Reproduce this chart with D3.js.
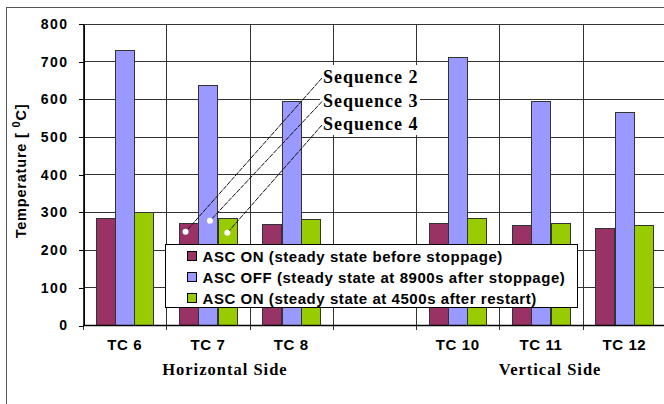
<!DOCTYPE html>
<meta charset="utf-8">
<style>
body { margin: 0; background: #fff; }
svg { display: block; }
.axis text { font: bold 14px "Liberation Sans", Arial, sans-serif; fill: #000; letter-spacing: 1.5px; }
.axis path, .axis line { stroke: #000; shape-rendering: crispEdges; }
.grid line { stroke: #333; shape-rendering: crispEdges; }
.bar { stroke: #333; stroke-width: 1; shape-rendering: crispEdges; }
.cat text { font: bold 15px "Liberation Sans", Arial, sans-serif; letter-spacing: 0.6px; }
.side { font: bold 16.5px "Liberation Serif", "Times New Roman", serif; letter-spacing: 1px; }
.legend text { font: bold 15px "Liberation Sans", Arial, sans-serif; letter-spacing: 0.55px; }
.seq text { font: bold 18px "Liberation Serif", "Times New Roman", serif; letter-spacing: 1px; }
</style>
<body>
<svg id="chart" width="664" height="404"></svg>
<script src="https://cdn.jsdelivr.net/npm/d3@7"></script>
<script>

// data
var categories = ["TC 6", "TC 7", "TC 8", "", "TC 10", "TC 11", "TC 12"];
var seriesNames = [
  "ASC ON (steady state before stoppage)",
  "ASC OFF (steady state at 8900s after stoppage)",
  "ASC ON (steady state at 4500s after restart)"
];
var ascOnBefore = [283, 271, 268, null, 271, 265, 257];
var ascOff      = [731, 638, 595, null, 710, 595, 565];
var ascOnAfter  = [299, 285, 280, null, 284, 270, 265];
var colors = ["#993366", "#9999ff", "#99cc00"];
var yTicks = [0, 100, 200, 300, 400, 500, 600, 700, 800];
var groups = [
  { label: "Horizontal Side", from: "TC 6", to: "TC 8" },
  { label: "Vertical Side", from: "TC 10", to: "TC 12" }
];
var sequences = ["Sequence 2", "Sequence 3", "Sequence 4"];

var svg = d3.select("#chart");

var margin = { left: 83, top: 23.5, right: 666, bottom: 325 };

var x = d3.scaleBand()
    .domain(d3.range(categories.length))
    .range([margin.left, margin.right]);

var x1 = d3.scaleBand()
    .domain(d3.range(3))
    .range([0, x.bandwidth()])
    .paddingInner(0)
    .paddingOuter(0.65);

var y = d3.scaleLinear()
    .domain([0, 800])
    .range([margin.bottom, margin.top]);

// outer frame
svg.append("rect")
    .attr("x", 6.5).attr("y", 7.5)
    .attr("width", 700).attr("height", 420)
    .attr("fill", "#fff")
    .attr("stroke", "#555");

// grid
var grid = svg.append("g").attr("class", "grid");
grid.selectAll(".h")
    .data(yTicks)
    .enter().append("line")
    .attr("class", "h")
    .attr("x1", margin.left).attr("x2", margin.right)
    .attr("y1", function(d) { return Math.round(y(d)) + 0.5; })
    .attr("y2", function(d) { return Math.round(y(d)) + 0.5; });
grid.selectAll(".v")
    .data(d3.range(categories.length + 1))
    .enter().append("line")
    .attr("class", "v")
    .attr("x1", function(i) { return Math.round(margin.left + i * x.bandwidth()) + 0.5; })
    .attr("x2", function(i) { return Math.round(margin.left + i * x.bandwidth()) + 0.5; })
    .attr("y1", margin.top).attr("y2", margin.bottom + 5);

// bars
var series = [ascOnBefore, ascOff, ascOnAfter];
var bars = svg.append("g");
series.forEach(function(vals, s) {
  bars.selectAll(".s" + s)
      .data(vals.map(function(v, i) { return { i: i, v: v }; }).filter(function(d) { return d.v != null; }))
      .enter().append("rect")
      .attr("class", "bar s" + s)
      .attr("x", function(d) { return Math.round(x(d.i) + x1(s)) + 0.5; })
      .attr("width", Math.round(x1.bandwidth()))
      .attr("y", function(d) { return Math.round(y(d.v)) + 0.5; })
      .attr("height", function(d) { return Math.round(y(0)) - Math.round(y(d.v)); })
      .attr("fill", colors[s]);
});

// y axis
svg.append("g")
    .attr("class", "axis")
    .attr("transform", "translate(" + (margin.left + 0.5) + ",0.5)")
    .call(d3.axisLeft(y).tickValues(yTicks).tickSize(5).tickPadding(10).tickSizeOuter(0));

// x axis line
svg.append("line")
    .attr("x1", margin.left).attr("x2", margin.right)
    .attr("y1", Math.round(y(0)) + 0.5).attr("y2", Math.round(y(0)) + 0.5)
    .attr("stroke", "#000")
    .attr("stroke-width", 1.5);

// category labels
svg.append("g").attr("class", "cat")
  .selectAll("text")
  .data(categories)
  .enter().append("text")
    .attr("x", function(d, i) { return x(i) + x.bandwidth() / 2; })
    .attr("y", 350)
    .attr("text-anchor", "middle")
    .text(function(d) { return d; });

// group labels
var sideShift = [17, 9];
svg.selectAll(".side")
  .data(groups)
  .enter().append("text")
    .attr("class", "side")
    .attr("x", function(g, k) {
      var a = x(categories.indexOf(g.from)), b = x(categories.indexOf(g.to)) + x.bandwidth();
      return (a + b) / 2 + sideShift[k];
    })
    .attr("y", 375)
    .attr("text-anchor", "middle")
    .text(function(g) { return g.label; });

// y title
var yt = svg.append("text")
    .attr("transform", "translate(26,171) rotate(-90)")
    .attr("text-anchor", "middle")
    .style("font", "bold 14.5px 'Liberation Sans', Arial, sans-serif")
    .style("letter-spacing", "0.8px");
yt.append("tspan").text("Temperature [ ");
yt.append("tspan").attr("dy", -6).style("font-size", "11px").text("0");
yt.append("tspan").attr("dy", 6).text("C]");

// sequence annotations (pointers into TC 7 bars)
var seqY = [78, 101.5, 125];
var seqDots = [
  { s: 0, off: 9, dx: -3 },
  { s: 1, off: -2, dx: 2 },
  { s: 2, off: 10, dx: 0 }
];
var seq = svg.append("g").attr("class", "seq");
seq.append("rect")
    .attr("x", 320).attr("y", 65)
    .attr("width", 100).attr("height", 70)
    .attr("fill", "#fff");
seqDots.forEach(function(d, k) {
  var cx = x(1) + x1(d.s) + x1.bandwidth() / 2 + d.dx;
  var cy = y(ascOnBefore[1]) + d.off;
  seq.append("line")
      .attr("x1", 322).attr("y1", seqY[k])
      .attr("x2", cx).attr("y2", cy)
      .attr("stroke", "#111")
      .attr("stroke-width", 1)
      .attr("stroke-dasharray", "5,1");
  seq.append("circle")
      .attr("cx", cx).attr("cy", cy)
      .attr("r", 3)
      .attr("fill", "#fff");
});
seq.selectAll("text")
  .data(sequences)
  .enter().append("text")
    .attr("x", 323)
    .attr("y", function(d, i) { return seqY[i] + 5; })
    .text(function(d) { return d; });

// legend
var legend = svg.append("g").attr("class", "legend")
    .attr("transform", "translate(165.5,244.5)");
legend.append("rect")
    .attr("width", 412).attr("height", 63)
    .attr("fill", "#fff")
    .attr("stroke", "#000");
var item = legend.selectAll(".item")
  .data(seriesNames)
  .enter().append("g")
    .attr("class", "item")
    .attr("transform", function(d, i) { return "translate(22," + (12 + i * 21) + ")"; });
item.append("rect")
    .attr("x", 0).attr("y", -5)
    .attr("width", 9).attr("height", 9)
    .attr("fill", function(d, i) { return colors[i]; })
    .attr("stroke", "#000");
item.append("text")
    .attr("x", 15).attr("y", 5.5)
    .text(function(d) { return d; });

</script>
</body>
